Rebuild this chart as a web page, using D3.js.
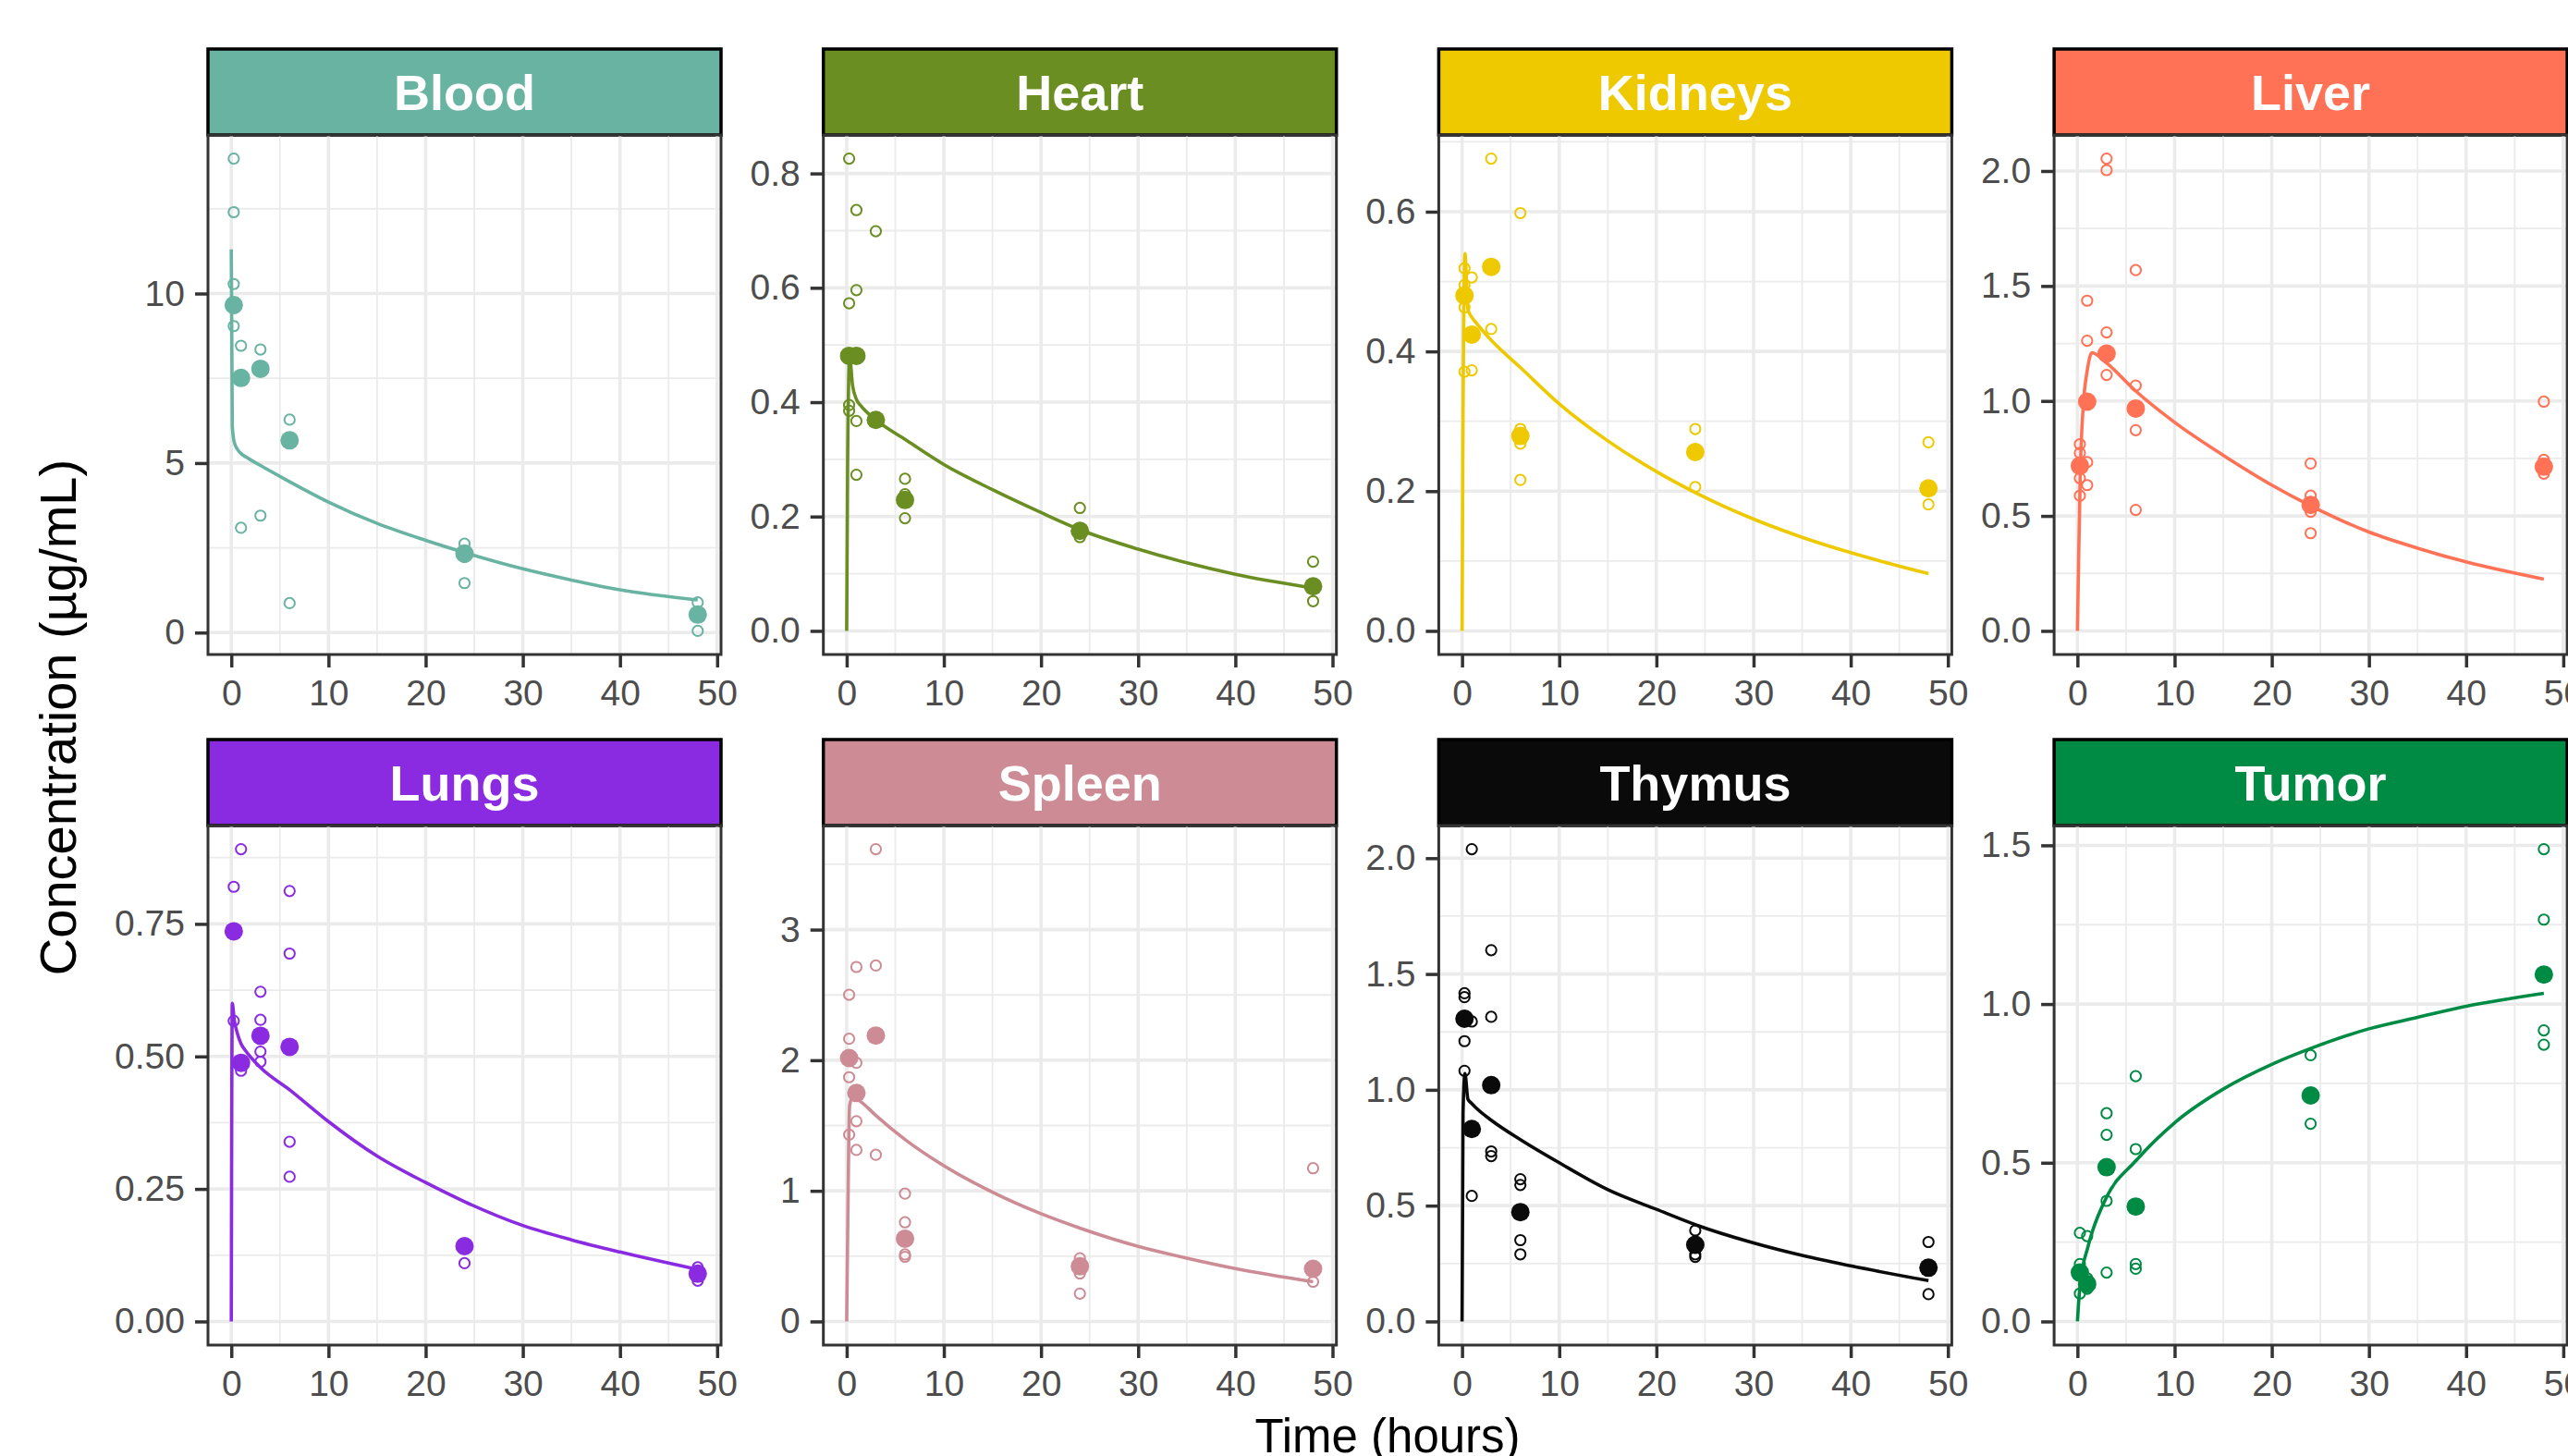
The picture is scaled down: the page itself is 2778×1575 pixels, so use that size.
<!DOCTYPE html>
<html>
<head>
<meta charset="utf-8">
<script src="https://cdn.jsdelivr.net/npm/d3@7"></script>
<style>
  body { margin: 0; background: #fff; }
  svg { display: block; }
  text { font-family: "Liberation Sans", Arial, sans-serif; }
</style>
</head>
<body>
<div id="chart"></div>
<script>
// facets, in reading order
const organs = ["Blood", "Heart", "Kidneys", "Liver", "Lungs", "Spleen", "Thymus", "Tumor"];

// sampling times (hours) of the observed data
const sampleTimes = [0.25, 1, 3, 6, 24, 48];
const fitTimes = [0, 0.1, 0.3, 0.6, 1, 1.5, 3, 6, 10, 15, 20, 24, 30, 35, 40, 48];

// individual observations (open circles), one list per sampling time
const obsBlood   = [[13.98, 12.4, 10.28, 9.04], [8.46, 3.09], [8.35, 3.45], [6.28, 0.87], [2.62, 2.4, 2.23, 1.46], [0.89, 0.05]];
const obsHeart   = [[0.826, 0.573, 0.395, 0.385], [0.736, 0.596, 0.367, 0.273], [0.699], [0.266, 0.239, 0.197], [0.215, 0.164], [0.121, 0.052]];
const obsKidneys = [[0.519, 0.495, 0.463, 0.371], [0.506, 0.373], [0.676, 0.432], [0.598, 0.289, 0.268, 0.216], [0.289, 0.206], [0.270, 0.181]];
const obsLiver   = [[0.812, 0.774, 0.664, 0.588], [1.436, 1.262, 0.734, 0.634], [2.054, 2.004, 1.298, 1.113], [1.569, 1.067, 0.873, 0.526], [0.728, 0.588, 0.560, 0.518, 0.425], [0.997, 0.744, 0.684]];
const obsLungs   = [[0.820, 0.567], [0.891, 0.473], [0.622, 0.569, 0.509, 0.490], [0.812, 0.694, 0.339, 0.273], [0.110], [0.102, 0.077]];
const obsSpleen  = [[2.501, 2.164, 1.870, 1.430], [2.714, 1.980, 1.533, 1.313], [3.616, 2.725, 1.276], [0.979, 0.759, 0.513, 0.495], [0.484, 0.367, 0.213], [1.173, 0.304]];
const obsThymus  = [[1.417, 1.400, 1.210, 1.082], [2.039, 1.295, 0.542], [1.603, 1.315, 0.734, 0.714], [0.614, 0.589, 0.351, 0.290], [0.393, 0.290, 0.279], [0.343, 0.118]];
const obsTumor   = [[0.279, 0.181, 0.151, 0.088], [0.269, 0.136, 0.103], [0.656, 0.588, 0.380, 0.154], [0.773, 0.543, 0.181, 0.166], [0.839, 0.717, 0.623], [1.488, 1.266, 0.917, 0.872]];

// means (filled circles)
const meanBlood   = [9.66, 7.51, 7.78, 5.67, 2.33, 0.53];
const meanHeart   = [0.481, 0.481, 0.369, 0.229, 0.175, 0.078];
const meanKidneys = [0.480, 0.424, 0.521, 0.279, 0.256, 0.204];
const meanLiver   = [0.718, 0.997, 1.206, 0.967, 0.548, 0.714];
const meanLungs   = [0.736, 0.488, 0.539, 0.518, 0.142, 0.090];
const meanSpleen  = [2.017, 1.749, 2.189, 0.634, 0.422, 0.403];
const meanThymus  = [1.307, 0.831, 1.020, 0.472, 0.331, 0.232];
const meanTumor   = [0.154, 0.118, 0.486, 0.362, 0.712, 1.093];

// model predictions at fitTimes
const fitBlood   = [11.3, 6.1, 5.62, 5.42, 5.28, 5.18, 4.93, 4.45, 3.85, 3.22, 2.72, 2.36, 1.88, 1.55, 1.26, 0.96];
const fitHeart   = [0, 0.30, 0.48, 0.43, 0.405, 0.393, 0.369, 0.335, 0.291, 0.247, 0.207, 0.177, 0.143, 0.119, 0.099, 0.075];
const fitKidneys = [0, 0.30, 0.54, 0.46, 0.449, 0.44, 0.416, 0.377, 0.325, 0.272, 0.228, 0.198, 0.160, 0.134, 0.112, 0.082];
const fitLiver   = [0, 0.25, 0.70, 0.98, 1.13, 1.21, 1.165, 1.043, 0.907, 0.764, 0.634, 0.544, 0.43, 0.36, 0.30, 0.225];
const fitLungs   = [0, 0.60, 0.569, 0.545, 0.524, 0.51, 0.479, 0.437, 0.377, 0.312, 0.262, 0.226, 0.181, 0.154, 0.131, 0.098];
const fitSpleen  = [0, 0.66, 1.65, 1.72, 1.705, 1.68, 1.577, 1.393, 1.192, 0.99, 0.825, 0.715, 0.575, 0.485, 0.405, 0.304];
const fitThymus  = [0, 0.9, 1.07, 0.96, 0.941, 0.92, 0.869, 0.785, 0.685, 0.569, 0.484, 0.418, 0.339, 0.285, 0.240, 0.176];
const fitTumor   = [0, 0.05, 0.12, 0.18, 0.226, 0.28, 0.392, 0.506, 0.626, 0.732, 0.810, 0.860, 0.922, 0.958, 0.993, 1.034];

// axis ticks
const xTicks = [0, 10, 20, 30, 40, 50];
const yTicksBlood   = [0, 5, 10];
const yTicksHeart   = [0, 0.2, 0.4, 0.6, 0.8];
const yTicksKidneys = [0, 0.2, 0.4, 0.6];
const yTicksLiver   = [0, 0.5, 1, 1.5, 2];
const yTicksLungs   = [0, 0.25, 0.5, 0.75];
const yTicksSpleen  = [0, 1, 2, 3];
const yTicksThymus  = [0, 0.5, 1, 1.5, 2];
const yTicksTumor   = [0, 0.5, 1, 1.5];
const yFormats = ["d", ".1f", ".1f", ".1f", ".2f", "d", ".1f", ".1f"];

const organColors = ["#69B3A2", "#6B8E23", "#EEC900", "#FF7256", "#8A2BE2", "#CD8C95", "#0A0A0A", "#008B45"];

// table built from the arrays above
const allObs   = [obsBlood, obsHeart, obsKidneys, obsLiver, obsLungs, obsSpleen, obsThymus, obsTumor];
const allMeans = [meanBlood, meanHeart, meanKidneys, meanLiver, meanLungs, meanSpleen, meanThymus, meanTumor];
const allFits  = [fitBlood, fitHeart, fitKidneys, fitLiver, fitLungs, fitSpleen, fitThymus, fitTumor];
const allTicks = [yTicksBlood, yTicksHeart, yTicksKidneys, yTicksLiver, yTicksLungs, yTicksSpleen, yTicksThymus, yTicksTumor];

const panels = organs.map((name, i) => ({
  name,
  color: organColors[i],
  obs: allObs[i].flatMap((vals, k) => vals.map(v => ({ t: sampleTimes[k], v }))),
  means: allMeans[i].map((v, k) => ({ t: sampleTimes[k], v })),
  fit: allFits[i].map((v, k) => ({ t: fitTimes[k], v })),
  ticks: allTicks[i],
  format: d3.format(yFormats[i])
}));

// layout
const width = 2778, height = 1575;
const dims = {
  left: 225,
  colStep: 665.7,
  panelW: 555,
  stripTops: [53, 800],
  stripH: 93,
  plotH: 562
};

// ggplot-like 5% expansion
function expand(ext) {
  const pad = (ext[1] - ext[0]) * 0.05;
  return [ext[0] - pad, ext[1] + pad];
}

function minorBreaks(ticks, domain) {
  const step = ticks[1] - ticks[0];
  const out = [ticks[0] - step / 2].concat(ticks.map(t => t + step / 2));
  return out.filter(v => v > domain[0] && v < domain[1]);
}

const svg = d3.select("#chart")
  .append("svg")
    .attr("width", width)
    .attr("height", height);

const xDomain = expand(d3.extent(fitTimes.concat(sampleTimes)));

panels.forEach((p, i) => {
  const col = i % 4, row = Math.floor(i / 4);
  const x0 = dims.left + col * dims.colStep;
  const sTop = dims.stripTops[row];
  const pTop = sTop + dims.stripH;

  const allVals = p.obs.map(d => d.v).concat(p.means.map(d => d.v), p.fit.map(d => d.v));
  const yDomain = expand(d3.extent(allVals));

  const xScale = d3.scaleLinear().domain(xDomain).range([0, dims.panelW]);
  const yScale = d3.scaleLinear().domain(yDomain).range([dims.plotH, 0]);

  // strip
  svg.append("rect")
    .attr("x", x0).attr("y", sTop)
    .attr("width", dims.panelW).attr("height", dims.stripH)
    .attr("fill", p.color)
    .attr("stroke", "#000")
    .attr("stroke-width", 3.5);
  svg.append("text")
    .attr("x", x0 + dims.panelW / 2)
    .attr("y", sTop + dims.stripH / 2)
    .attr("dy", "0.36em")
    .attr("text-anchor", "middle")
    .attr("fill", "#fff")
    .attr("font-weight", "bold")
    .attr("font-size", 54)
    .text(p.name);

  const bounds = svg.append("g")
    .attr("transform", `translate(${x0}, ${pTop})`);

  // grid
  const grid = bounds.append("g");
  const xMinor = minorBreaks(xTicks, xDomain);
  const yMinor = minorBreaks(p.ticks, yDomain);
  grid.selectAll(".xminor").data(xMinor).enter().append("line")
    .attr("x1", d => xScale(d)).attr("x2", d => xScale(d))
    .attr("y1", 0).attr("y2", dims.plotH)
    .attr("stroke", "#EBEBEB").attr("stroke-width", 1.8);
  grid.selectAll(".yminor").data(yMinor).enter().append("line")
    .attr("y1", d => yScale(d)).attr("y2", d => yScale(d))
    .attr("x1", 0).attr("x2", dims.panelW)
    .attr("stroke", "#EBEBEB").attr("stroke-width", 1.8);
  grid.selectAll(".xmajor").data(xTicks.filter(t => t < xDomain[1])).enter().append("line")
    .attr("x1", d => xScale(d)).attr("x2", d => xScale(d))
    .attr("y1", 0).attr("y2", dims.plotH)
    .attr("stroke", "#EBEBEB").attr("stroke-width", 3.6);
  grid.selectAll(".ymajor").data(p.ticks).enter().append("line")
    .attr("y1", d => yScale(d)).attr("y2", d => yScale(d))
    .attr("x1", 0).attr("x2", dims.panelW)
    .attr("stroke", "#EBEBEB").attr("stroke-width", 3.6);

  // open circles
  bounds.append("g").selectAll("circle").data(p.obs).enter().append("circle")
    .attr("cx", d => xScale(d.t))
    .attr("cy", d => yScale(d.v))
    .attr("r", 5.6)
    .attr("fill", "none")
    .attr("stroke", p.color)
    .attr("stroke-width", 2);

  // means
  bounds.append("g").selectAll("circle").data(p.means).enter().append("circle")
    .attr("cx", d => xScale(d.t))
    .attr("cy", d => yScale(d.v))
    .attr("r", 10)
    .attr("fill", p.color);

  // model curve
  const lineGenerator = d3.line()
    .x(d => xScale(d.t))
    .y(d => yScale(d.v))
    .curve(d3.curveMonotoneX);
  bounds.append("path")
    .attr("d", lineGenerator(p.fit))
    .attr("fill", "none")
    .attr("stroke", p.color)
    .attr("stroke-width", 3.6)
    .attr("stroke-linejoin", "round");

  // panel border
  bounds.append("rect")
    .attr("width", dims.panelW).attr("height", dims.plotH)
    .attr("fill", "none")
    .attr("stroke", "#333333")
    .attr("stroke-width", 3);

  // axes
  const yAxis = bounds.append("g")
    .call(d3.axisLeft(yScale).tickValues(p.ticks).tickFormat(p.format).tickSize(14).tickPadding(11));
  const xAxis = bounds.append("g")
    .attr("transform", `translate(0, ${dims.plotH})`)
    .call(d3.axisBottom(xScale).tickValues(xTicks).tickFormat(d3.format("d")).tickSize(14).tickPadding(13));

  [xAxis, yAxis].forEach(ax => {
    ax.select(".domain").remove();
    ax.selectAll(".tick line").attr("stroke", "#333333").attr("stroke-width", 3.5);
    ax.selectAll(".tick text")
      .attr("fill", "#4D4D4D")
      .attr("font-size", 39)
      .attr("font-family", "\"Liberation Sans\", Arial, sans-serif");
  });
});

// axis titles
svg.append("text")
  .attr("x", 1501)
  .attr("y", 1571)
  .attr("text-anchor", "middle")
  .attr("font-size", 51)
  .attr("fill", "#000")
  .text("Time (hours)");

svg.append("text")
  .attr("transform", "translate(82, 776) rotate(-90)")
  .attr("text-anchor", "middle")
  .attr("font-size", 56)
  .attr("fill", "#000")
  .text("Concentration (µg/mL)");
</script>
</body>
</html>
